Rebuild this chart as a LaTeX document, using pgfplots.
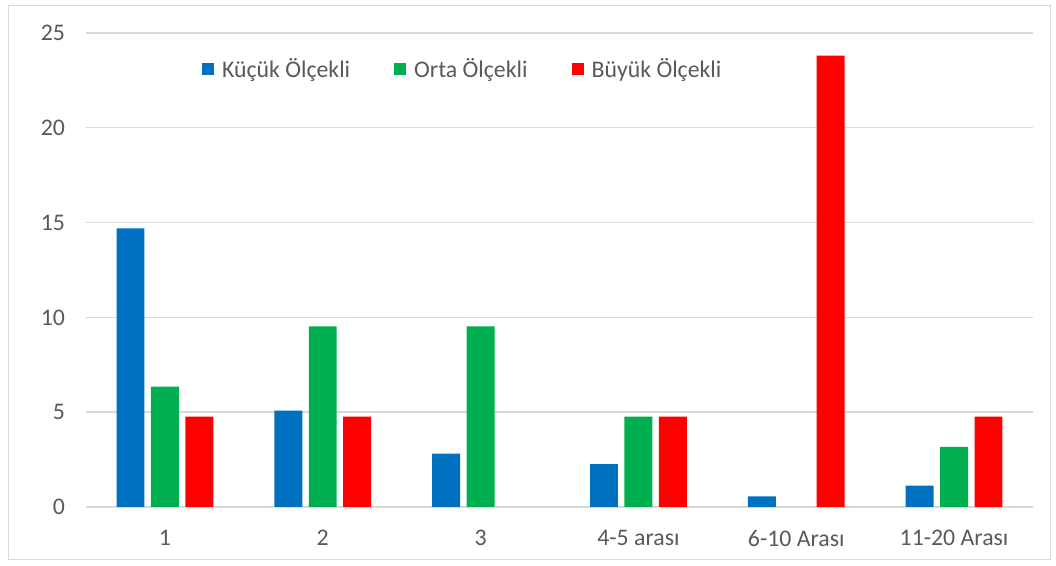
\documentclass[border=0pt]{standalone}
\usepackage{fontspec}
\setmainfont{Carlito}
\usepackage{pgfplots}
\pgfplotsset{compat=1.18}
\definecolor{cblue}{HTML}{0070C0}
\definecolor{cgreen}{HTML}{00B050}
\definecolor{cred}{HTML}{FF0000}
\definecolor{tgray}{HTML}{595959}
\definecolor{ggray}{HTML}{D9D9D9}
\begin{document}
\begin{tikzpicture}[x=1pt,y=1pt]
\path[use as bounding box] (0,0) rectangle (528,283);
\draw[color=ggray, line width=0.5pt] (4,3) rectangle (525,280);
\begin{axis}[
  at={(43pt,29.5pt)}, anchor=south west,
  scale only axis, width=473.5pt, height=237pt,
  xmin=-0.5, xmax=5.5, ymin=0, ymax=25,
  ybar, bar width=0.177,
  xtick={0,...,5},
  xticklabels={1,2,3,4-5 arası,6-10 Arası,11-20 Arası},
  ytick={0,5,...,25},
  ymajorgrids, grid style={color=ggray, line width=0.7pt},
  axis line style={draw=none},
  major tick length=0pt,
  tick label style={color=tgray, font=\fontsize{11.9}{14}\selectfont},
  xticklabel style={yshift=-8pt},
  yticklabel style={xshift=-7pt},
  /pgf/number format/assume math mode=true,
  legend image code/.code={\fill[#1] (0pt,-3pt) rectangle (6pt,3pt);},
  legend style={draw=none, fill=none, legend columns=3,
    at={(0.401,0.924)}, anchor=center,
    font=\fontsize{11.9}{14}\selectfont, text=tgray,
    nodes={inner xsep=4pt},
    /tikz/every even column/.append style={column sep=18pt}},
]
\addplot[fill=cblue, draw=none, bar shift=-0.218] coordinates {(0,14.69) (1,5.08) (2,2.82) (3,2.26) (4,0.56) (5,1.13)};
\addplot[fill=cgreen, draw=none, bar shift=0] coordinates {(0,6.35) (1,9.52) (2,9.52) (3,4.76) (5,3.17)};
\addplot[fill=cred, draw=none, bar shift=0.218] coordinates {(0,4.76) (1,4.76) (3,4.76) (4,23.81) (5,4.76)};
\legend{Küçük Ölçekli, Orta Ölçekli, Büyük Ölçekli}
\end{axis}
\end{tikzpicture}
\end{document}
